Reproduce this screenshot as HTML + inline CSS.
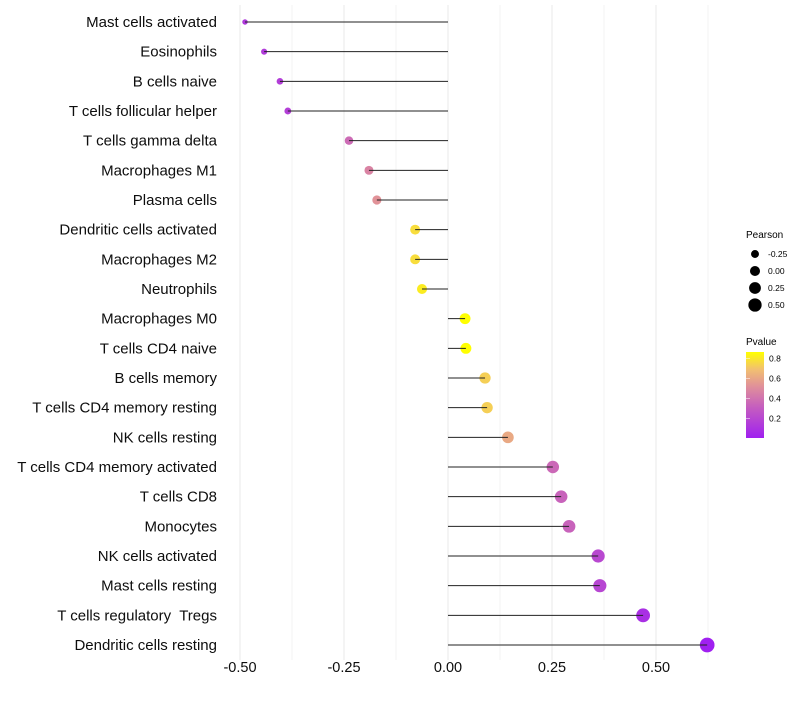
<!DOCTYPE html>
<html><head><meta charset="utf-8"><style>
body{margin:0;background:#fff;font-family:"Liberation Sans",sans-serif;}
#labels text{white-space:pre;}
</style></head><body>
<svg id="chart" width="800" height="700" xmlns="http://www.w3.org/2000/svg" font-family="Liberation Sans, sans-serif">
<defs><linearGradient id="pg" x1="0" y1="1" x2="0" y2="0">
<stop offset="0" stop-color="#a020f0"/><stop offset="0.35" stop-color="#c45cc0"/><stop offset="0.6" stop-color="#e0909a"/><stop offset="0.8" stop-color="#f2c070"/><stop offset="1" stop-color="#ffff00"/>
</linearGradient></defs>
<g id="grid"></g><g id="points"></g><g id="marks"></g><g id="labels"></g><g id="xticks"></g>
<g font-size="9">
<text x="746" y="238" font-size="10">Pearson</text>
<g id="sizeleg"></g>
<text x="746" y="345" font-size="10">Pvalue</text>
<rect x="746" y="352" width="18" height="86" fill="url(#pg)"/>
<g id="colleg"></g>
</g>
</svg>
<script>
const categories=["Mast cells activated","Eosinophils","B cells naive","T cells follicular helper","T cells gamma delta","Macrophages M1","Plasma cells","Dendritic cells activated","Macrophages M2","Neutrophils","Macrophages M0","T cells CD4 naive","B cells memory","T cells CD4 memory resting","NK cells resting","T cells CD4 memory activated","T cells CD8","Monocytes","NK cells activated","Mast cells resting","T cells regulatory  Tregs","Dendritic cells resting"];
const pearson=[-0.488,-0.442,-0.404,-0.385,-0.238,-0.19,-0.171,-0.079,-0.079,-0.0625,0.041,0.043,0.089,0.094,0.144,0.252,0.272,0.291,0.361,0.365,0.469,0.623];
const pvalue=[0.13,0.14,0.15,0.16,0.36,0.46,0.52,0.76,0.76,0.8,0.85,0.85,0.72,0.72,0.6,0.35,0.33,0.33,0.2,0.19,0.08,0.005];
const xTicks=[-0.5,-0.25,0,0.25,0.5];
const xTickLabels=["-0.50","-0.25","0.00","0.25","0.50"];
const sizeLegend=[-0.25,0,0.25,0.5];
const colLegend=[0.8,0.6,0.4,0.2];
const NS="http://www.w3.org/2000/svg";
const xs=v=>448+v*416;
const ys=i=>22+i*(623/21);
const rs=v=>Math.sqrt(Math.max(2,28+42*v));
const pmin=0.005,pmax=0.85;
const stops=[[0,[160,32,240]],[0.35,[196,92,192]],[0.6,[224,144,154]],[0.8,[242,192,112]],[1,[255,255,0]]];
function col(p){let t=Math.min(1,Math.max(0,(p-pmin)/(pmax-pmin)));for(let k=1;k<stops.length;k++){if(t<=stops[k][0]){const a=stops[k-1],b=stops[k],f=(t-a[0])/(b[0]-a[0]);return "rgb("+a[1].map((c,j)=>Math.round(c+(b[1][j]-c)*f)).join(",")+")";}}return "rgb(255,255,0)";}
function mk(tag,attrs,parent){const e=document.createElementNS(NS,tag);for(const k in attrs)e.setAttribute(k,attrs[k]);document.getElementById(parent).appendChild(e);return e;}
for(let v=-0.5;v<=0.626;v+=0.125){const g=mk("line",{x1:xs(v),x2:xs(v),y1:5,y2:660,stroke:"#ebebeb","stroke-width":Math.abs((v*4)%1)<0.01?1.1:0.6},"grid");

}
categories.forEach((c,i)=>{
const p=mk("circle",{cx:xs(pearson[i]),cy:ys(i),r:rs(pearson[i]),fill:col(pvalue[i])},"points");


const l=mk("line",{x1:xs(0),x2:xs(pearson[i]),y1:ys(i),y2:ys(i),stroke:"#222","stroke-width":1},"marks");


const t=mk("text",{x:217,y:ys(i)+5,"text-anchor":"end","font-size":15,fill:"#0d0d0d"},"labels");t.textContent=c;


});
xTicks.forEach((v,i)=>{const t=mk("text",{x:xs(v),y:672,"text-anchor":"middle","font-size":14.5,fill:"#0d0d0d"},"xticks");t.textContent=xTickLabels[i];

});
sizeLegend.forEach((v,i)=>{const y=254+i*17;
const c=mk("circle",{cx:755,cy:y,r:rs(v)*0.95,fill:"#000"},"sizeleg");


const t=mk("text",{x:768,y:y+3,"font-size":8.5},"sizeleg");t.textContent=v.toFixed(2);

});
colLegend.forEach(v=>{const y=438-(v-pmin)/(pmax-pmin)*86*0.985;
const t=mk("text",{x:769,y:y+3,"font-size":8.5},"colleg");t.textContent=v.toFixed(1);


const tk=mk("line",{x1:746,x2:750,y1:y,y2:y,stroke:"#fff","stroke-width":0.5},"colleg");

});
</script>
</body></html>
